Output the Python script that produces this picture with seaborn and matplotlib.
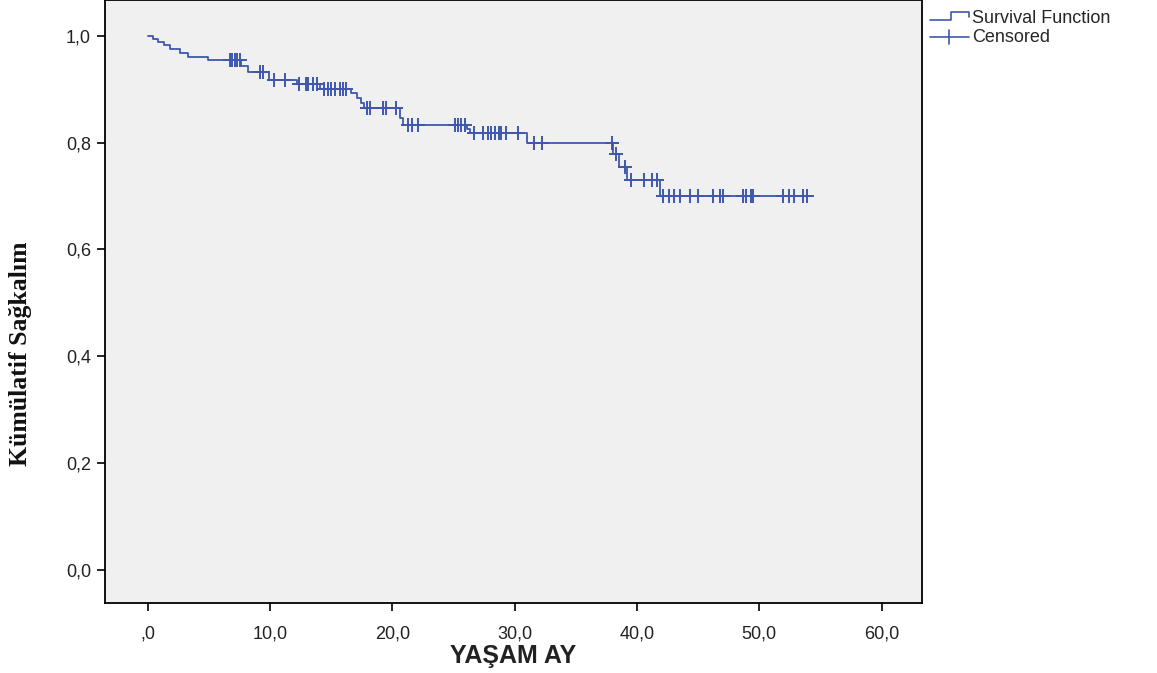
import numpy as np
import pandas as pd
import matplotlib
matplotlib.use("Agg")
import matplotlib.pyplot as plt
from matplotlib.lines import Line2D
from matplotlib.legend_handler import HandlerBase
import seaborn as sns

# ---------------- data ----------------
step_times = [0.0, 0.4, 0.85, 1.3, 1.8, 2.6, 3.3, 4.9, 7.65, 8.2, 9.9, 12.2, 14.1,
              16.6, 17.1, 17.4, 17.7, 20.6, 20.9, 26.1, 26.35, 31.0, 38.0, 38.5,
              39.2, 41.9, 54.1]
step_surv = [1.0, 0.994, 0.988, 0.982, 0.975, 0.968, 0.961, 0.954, 0.943, 0.933,
             0.918, 0.910, 0.901, 0.893, 0.884, 0.875, 0.865, 0.846, 0.833, 0.825,
             0.818, 0.800, 0.778, 0.755, 0.730, 0.700, 0.700]

censor_times = [6.7, 6.9, 7.1, 7.3, 7.5,
                9.2, 9.4,
                10.3, 11.2,
                12.4, 12.9, 13.1, 13.5, 13.8,
                14.4, 14.7, 15.0, 15.3, 15.7, 16.0, 16.2,
                17.9, 18.2, 19.2, 19.5, 20.3,
                21.3, 21.6, 22.1, 25.1, 25.35, 25.6, 25.9,
                26.7, 27.4, 27.8, 28.1, 28.4, 28.7, 28.9, 29.3, 30.3,
                31.6, 32.2, 37.95,
                38.3,
                39.0,
                39.5, 40.6, 41.2, 41.6,
                42.1, 42.6, 43.0, 43.5, 44.3, 45.0, 46.2, 46.8, 47.0, 48.7,
                48.9, 49.3, 49.5, 51.9, 52.4, 52.8, 53.6, 53.9]

x_ticks = [0, 10, 20, 30, 40, 50, 60]
x_tick_labels = [",0", "10,0", "20,0", "30,0", "40,0", "50,0", "60,0"]
y_ticks = [0.0, 0.2, 0.4, 0.6, 0.8, 1.0]
y_tick_labels = ["0,0", "0,2", "0,4", "0,6", "0,8", "1,0"]

x_label = "YAŞAM AY"
y_label = "Kümülatif Sağkalım"
legend_labels = ["Survival Function", "Censored"]

# ---------------- build frames ----------------
curve = pd.DataFrame({"time": step_times, "surv": step_surv})
idx = np.searchsorted(np.array(step_times), np.array(censor_times), side="right") - 1
censored = pd.DataFrame({"time": censor_times,
                         "surv": np.array(step_surv)[idx]})

BLUE = "#3F57AD"

sns.set_theme(style="white")
plt.rcParams["font.family"] = ["Liberation Sans", "DejaVu Sans"]

fig = plt.figure(figsize=(11.57, 6.73), dpi=100)
ax = fig.add_axes([105 / 1157, 1 - 603 / 673, (922 - 105) / 1157, 603 / 673])
ax.set_facecolor("#F0F0F0")

sns.lineplot(data=curve, x="time", y="surv", ax=ax, color=BLUE, lw=1.3,
             drawstyle="steps-post", estimator=None, sort=False)
sns.scatterplot(data=censored, x="time", y="surv", ax=ax, color=BLUE,
                marker="+", s=100, linewidth=1.4)

ax.set_xlim(-3.5, 63.3)
ax.set_ylim(-0.062, 1.067)
ax.set_xticks(x_ticks)
ax.set_xticklabels(x_tick_labels)
ax.set_yticks(y_ticks)
ax.set_yticklabels(y_tick_labels)
ax.tick_params(axis="both", direction="out", length=6, width=1.2,
               color="black", labelsize=13, labelcolor="#222222", pad=4,
               bottom=True, left=True)
ax.tick_params(axis="x", pad=10)
for sp in ax.spines.values():
    sp.set_color("black")
    sp.set_linewidth(1.3)
ax.set_xlabel("")
ax.set_ylabel("")

fig.text((105 + 922) / 2 / 1157, 1 - 656 / 673, x_label, ha="center", va="center",
         fontsize=18, fontweight="bold",
         family=["Liberation Sans", "DejaVu Sans"],
         color="#222222")
fig.text(21 / 1157, 1 - 354 / 673, y_label, ha="center", va="center",
         rotation=90, fontsize=18.5, fontweight="bold",
         family=["Liberation Serif", "DejaVu Serif"], color="#111111")


class StepHandler(HandlerBase):
    def create_artists(self, legend, orig_handle, xdescent, ydescent, width,
                       height, fontsize, trans):
        x0 = -xdescent
        xs = [x0, x0 + width * 0.55, x0 + width * 0.55, x0 + width, x0 + width]
        ys = [height * 0.2, height * 0.2, height * 0.85, height * 0.85, height * 0.45]
        ln = Line2D(xs, ys, color=BLUE, lw=1.2)
        ln.set_transform(trans)
        return [ln]


class CensorHandler(HandlerBase):
    def create_artists(self, legend, orig_handle, xdescent, ydescent, width,
                       height, fontsize, trans):
        x0 = -xdescent
        h = Line2D([x0, x0 + width], [height * 0.45, height * 0.45],
                   color=BLUE, lw=1.2)
        v = Line2D([x0 + width * 0.5, x0 + width * 0.5],
                   [height * -0.1, height * 1.0], color=BLUE, lw=1.2)
        h.set_transform(trans)
        v.set_transform(trans)
        return [h, v]


h1 = Line2D([], [], color=BLUE)
h2 = Line2D([], [], color=BLUE, marker="+")
fig.legend([h1, h2], legend_labels, loc="upper left",
           bbox_to_anchor=(926 / 1157, 1 - 6 / 673), frameon=False, fontsize=13,
           handlelength=2.2, handletextpad=0.15, labelspacing=0.15,
           borderaxespad=0.0, borderpad=0.2,
           handler_map={h1: StepHandler(), h2: CensorHandler()})

fig.savefig("out.png", dpi=100, facecolor="white")
